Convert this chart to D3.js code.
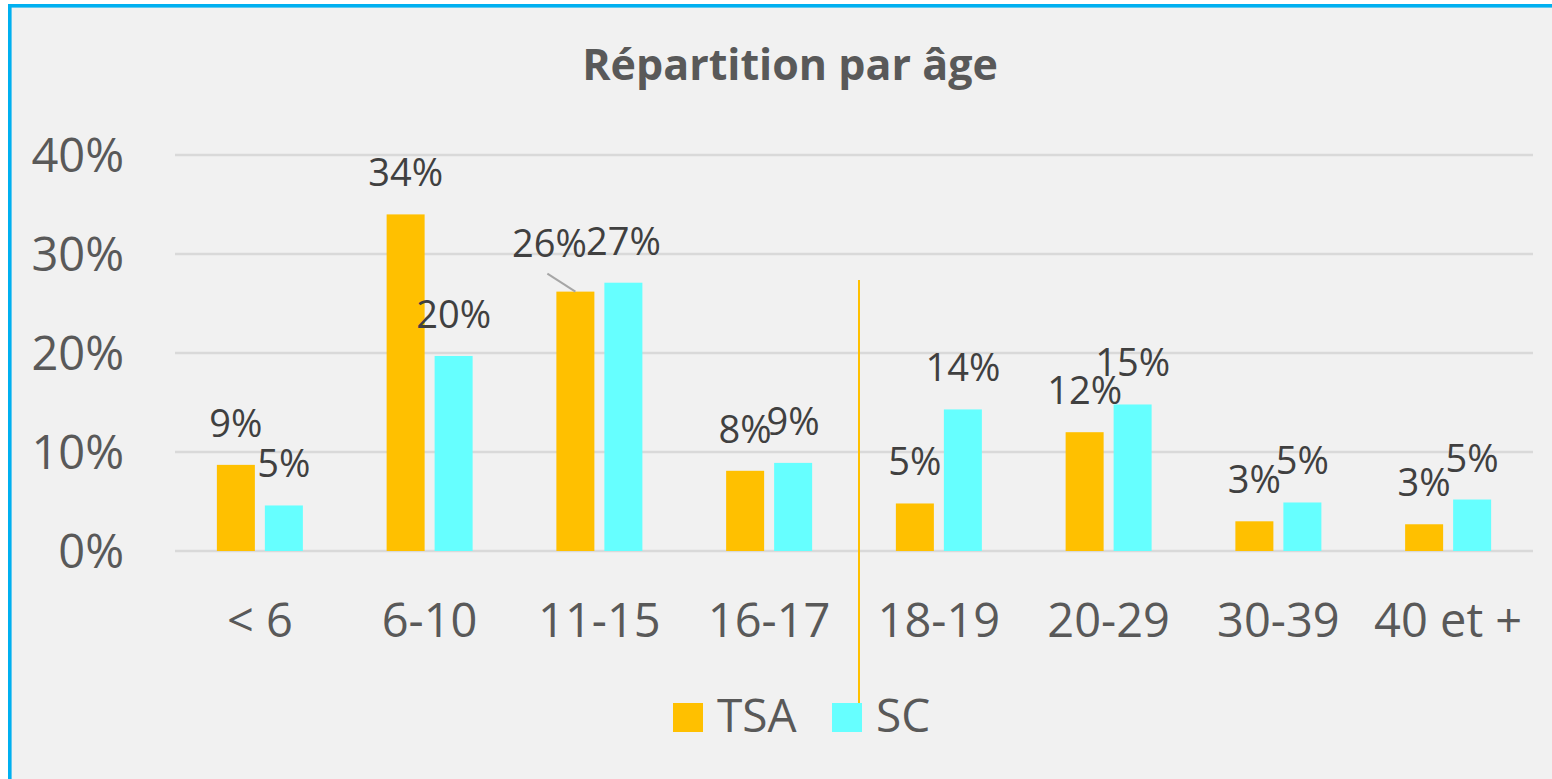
<!DOCTYPE html>
<html>
<head>
<meta charset="utf-8">
<script src="https://cdn.jsdelivr.net/npm/d3@7"></script>
<style>
  body { margin: 0; background: #fff; }
  text { font-family: "Open Sans", sans-serif; }
</style>
</head>
<body>
<div id="chart"></div>
<script>
// data
var ageGroups = ["< 6", "6-10", "11-15", "16-17", "18-19", "20-29", "30-39", "40 et +"];
var seriesNames = ["TSA", "SC"];
var tsaValues = [0.087, 0.340, 0.262, 0.081, 0.048, 0.120, 0.030, 0.027];
var scValues  = [0.046, 0.197, 0.271, 0.089, 0.143, 0.148, 0.049, 0.052];
var yTicks = [0, 0.1, 0.2, 0.3, 0.4];

var colors = { TSA: "#FFC000", SC: "#66FFFF" };

var width = 1552, height = 779;
var svg = d3.select("#chart").append("svg")
    .attr("width", width)
    .attr("height", height);

// frame (right and bottom edges fall outside the picture)
svg.append("rect")
    .attr("x", 9.8).attr("y", 5.8)
    .attr("width", width + 40).attr("height", height + 40)
    .attr("fill", "#F1F1F1")
    .attr("stroke", "#00B0F0")
    .attr("stroke-width", 3.6);

svg.append("text")
    .attr("x", 790).attr("y", 80)
    .attr("text-anchor", "middle")
    .attr("font-size", 43).attr("font-weight", "bold")
    .attr("fill", "#595959")
    .text("Répartition par âge");

var x0 = d3.scaleBand().domain(ageGroups).range([175, 1533]);
var bw = x0.bandwidth();
var x1 = d3.scaleBand().domain(seriesNames)
    .range([bw / 2 - 43, bw / 2 + 43])
    .paddingInner(10 / 48);
var y = d3.scaleLinear().domain([0, 0.4]).range([551, 155]);

// gridlines
svg.append("g").selectAll("line").data(yTicks).join("line")
    .attr("x1", 175).attr("x2", 1533)
    .attr("y1", function(d){ return y(d); })
    .attr("y2", function(d){ return y(d); })
    .attr("stroke", "#D9D9D9").attr("stroke-width", 2.5);

// y axis labels
var yAxis = d3.axisLeft(y).tickValues(yTicks).tickFormat(d3.format(".0%")).tickSize(0).tickPadding(0);
svg.append("g").attr("transform", "translate(124,0)").call(yAxis)
  .call(function(g){ g.select(".domain").remove(); })
  .selectAll("text")
    .attr("font-family", "Open Sans").attr("font-size", 47)
    .attr("fill", "#595959").attr("dy", "0.36em");

// x axis labels
var xAxis = d3.axisBottom(x0).tickSize(0).tickPadding(0);
svg.append("g").attr("transform", "translate(0,603)").call(xAxis)
  .call(function(g){ g.select(".domain").remove(); })
  .selectAll("text")
    .attr("font-family", "Open Sans").attr("font-size", 47)
    .attr("fill", "#595959").attr("dy", "0.72em");

var rows = ageGroups.map(function(a, i){
  return { age: a, vals: [ { key: "TSA", v: tsaValues[i], i: i }, { key: "SC", v: scValues[i], i: i } ] };
});

var groups = svg.append("g").selectAll("g").data(rows).join("g")
    .attr("transform", function(d){ return "translate(" + x0(d.age) + ",0)"; });

groups.selectAll("rect").data(function(d){ return d.vals; }).join("rect")
    .attr("x", function(d){ return x1(d.key); })
    .attr("width", x1.bandwidth())
    .attr("y", function(d){ return y(d.v); })
    .attr("height", function(d){ return y(0) - y(d.v); })
    .attr("fill", function(d){ return colors[d.key]; });

// the 26% label was dragged up-left in the original, with a leader line
var moved = { key: "TSA", i: 2, dx: -26, dy: -35 };
var fmt = d3.format(".0%");

groups.selectAll("text.val").data(function(d){ return d.vals; }).join("text")
    .attr("class", "val")
    .attr("x", function(d){
      var dx = (d.key === moved.key && d.i === moved.i) ? moved.dx : 0;
      return x1(d.key) + x1.bandwidth() / 2 + dx;
    })
    .attr("y", function(d){
      var dy = (d.key === moved.key && d.i === moved.i) ? moved.dy : -28;
      return y(d.v) + dy;
    })
    .attr("text-anchor", "middle")
    .attr("font-size", 38)
    .attr("fill", "#404040")
    .text(function(d){ return fmt(d.v); });

var mx = x0(ageGroups[moved.i]) + x1(moved.key) + x1.bandwidth() / 2;
var my = y(tsaValues[moved.i]);
svg.append("line")
    .attr("x1", mx - 28).attr("y1", my - 18)
    .attr("x2", mx).attr("y2", my)
    .attr("stroke", "#A6A6A6").attr("stroke-width", 2);

// legend
var legend = svg.append("g");
var legendX = { TSA: 673, SC: 832 };
seriesNames.forEach(function(s){
  legend.append("rect")
    .attr("x", legendX[s]).attr("y", 703)
    .attr("width", 30).attr("height", 29)
    .attr("fill", colors[s]);
  legend.append("text")
    .attr("x", legendX[s] + 44).attr("y", 732)
    .attr("font-size", 46).attr("fill", "#595959")
    .text(s);
});

// orange separator between minors and adults
svg.append("line")
    .attr("x1", 859).attr("x2", 859)
    .attr("y1", 280).attr("y2", 703)
    .attr("stroke", "#FFC000").attr("stroke-width", 2);
</script>
</body>
</html>
